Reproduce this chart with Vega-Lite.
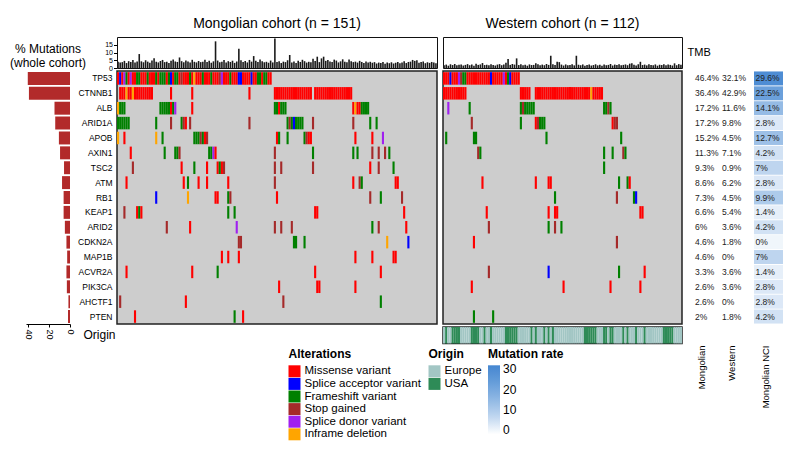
{
"$schema": "https://vega.github.io/schema/vega-lite/v6.json",
"padding": {"left": 9, "top": 16, "right": 0, "bottom": 0},
"config": {"font": "Liberation Sans", "view": {"stroke": null}, "axis": {"grid": false}, "title": {"fontWeight": "normal", "color": "#000"}},
"resolve": {"scale": {"x": "independent", "y": "independent", "color": "independent"}},
"columns": 7,
"spacing": {"row": 3, "column": 6},
"bounds": "flush",
"align": "each",
"datasets": {
"types": [{"t":"m","type":"Missense variant"},{"t":"a","type":"Splice acceptor variant"},{"t":"f","type":"Frameshift variant"},{"t":"s","type":"Stop gained"},{"t":"d","type":"Splice donor variant"},{"t":"i","type":"Inframe deletion"}],
"tbl": [
{"g":"TP53","wc":40.3,"mt":"46.4%","wt":"32.1%","n":29.6,"nt":"29.6%"},
{"g":"CTNNB1","wc":39.2,"mt":"36.4%","wt":"42.9%","n":22.5,"nt":"22.5%"},
{"g":"ALB","wc":14.8,"mt":"17.2%","wt":"11.6%","n":14.1,"nt":"14.1%"},
{"g":"ARID1A","wc":14.1,"mt":"17.2%","wt":"9.8%","n":2.8,"nt":"2.8%"},
{"g":"APOB","wc":10.6,"mt":"15.2%","wt":"4.5%","n":12.7,"nt":"12.7%"},
{"g":"AXIN1","wc":9.5,"mt":"11.3%","wt":"7.1%","n":4.2,"nt":"4.2%"},
{"g":"TSC2","wc":5.7,"mt":"9.3%","wt":"0.9%","n":7,"nt":"7%"},
{"g":"ATM","wc":7.6,"mt":"8.6%","wt":"6.2%","n":2.8,"nt":"2.8%"},
{"g":"RB1","wc":6.1,"mt":"7.3%","wt":"4.5%","n":9.9,"nt":"9.9%"},
{"g":"KEAP1","wc":6.1,"mt":"6.6%","wt":"5.4%","n":1.4,"nt":"1.4%"},
{"g":"ARID2","wc":4.9,"mt":"6%","wt":"3.6%","n":4.2,"nt":"4.2%"},
{"g":"CDKN2A","wc":3.4,"mt":"4.6%","wt":"1.8%","n":0,"nt":"0%"},
{"g":"MAP1B","wc":2.7,"mt":"4.6%","wt":"0%","n":7,"nt":"7%"},
{"g":"ACVR2A","wc":3.4,"mt":"3.3%","wt":"3.6%","n":1.4,"nt":"1.4%"},
{"g":"PIK3CA","wc":3.0,"mt":"2.6%","wt":"3.6%","n":2.8,"nt":"2.8%"},
{"g":"AHCTF1","wc":1.5,"mt":"2.6%","wt":"0%","n":2.8,"nt":"2.8%"},
{"g":"PTEN","wc":1.9,"mt":"2%","wt":"1.8%","n":4.2,"nt":"4.2%"}
],
"tmbM": [
{"s":0,"v":4.1},{"s":1,"v":3.5},{"s":2,"v":3.8},{"s":3,"v":4.6},{"s":4,"v":3.2},{"s":5,"v":4.4},{"s":6,"v":3.9},{"s":7,"v":5.1},{"s":8,"v":3.6},{"s":9,"v":4.2},
{"s":10,"v":9.0},{"s":11,"v":4.3},{"s":12,"v":3.7},{"s":13,"v":5.0},{"s":14,"v":4.1},{"s":15,"v":3.4},{"s":16,"v":4.8},{"s":17,"v":6.3},{"s":18,"v":4.0},{"s":19,"v":3.6},
{"s":20,"v":4.5},{"s":21,"v":5.2},{"s":22,"v":3.8},{"s":23,"v":4.1},{"s":24,"v":3.3},{"s":25,"v":4.7},{"s":26,"v":5.5},{"s":27,"v":4.2},{"s":28,"v":3.9},{"s":29,"v":6.8},
{"s":30,"v":4.4},{"s":31,"v":3.7},{"s":32,"v":4.9},{"s":33,"v":4.2},{"s":34,"v":3.5},{"s":35,"v":5.3},{"s":36,"v":4.0},{"s":37,"v":3.6},{"s":38,"v":4.5},{"s":39,"v":3.8},
{"s":40,"v":4.1},{"s":41,"v":5.4},{"s":42,"v":3.9},{"s":43,"v":4.6},{"s":44,"v":3.4},{"s":45,"v":4.3},{"s":46,"v":17.2},{"s":47,"v":4.8},{"s":48,"v":3.7},{"s":49,"v":4.0},
{"s":50,"v":5.1},{"s":51,"v":3.6},{"s":52,"v":4.4},{"s":53,"v":3.9},{"s":54,"v":4.7},{"s":55,"v":3.3},{"s":56,"v":4.2},{"s":57,"v":12.4},{"s":58,"v":5.0},{"s":59,"v":3.8},
{"s":60,"v":4.5},{"s":61,"v":3.6},{"s":62,"v":5.2},{"s":63,"v":4.1},{"s":64,"v":7.7},{"s":65,"v":4.6},{"s":66,"v":3.9},{"s":67,"v":5.5},{"s":68,"v":4.3},{"s":69,"v":3.7},
{"s":70,"v":4.0},{"s":71,"v":3.4},{"s":72,"v":4.8},{"s":73,"v":3.6},{"s":74,"v":19.0},{"s":75,"v":3.9},{"s":76,"v":4.4},{"s":77,"v":3.2},{"s":78,"v":4.1},{"s":79,"v":3.8},
{"s":80,"v":5.0},{"s":81,"v":8.4},{"s":82,"v":3.6},{"s":83,"v":4.2},{"s":84,"v":3.3},{"s":85,"v":4.7},{"s":86,"v":3.9},{"s":87,"v":5.3},{"s":88,"v":4.4},{"s":89,"v":3.5},
{"s":90,"v":4.0},{"s":91,"v":3.7},{"s":92,"v":6.0},{"s":93,"v":4.5},{"s":94,"v":7.3},{"s":95,"v":3.8},{"s":96,"v":6.2},{"s":97,"v":7.3},{"s":98,"v":4.6},{"s":99,"v":5.1},
{"s":100,"v":4.2},{"s":101,"v":3.9},{"s":102,"v":5.4},{"s":103,"v":4.8},{"s":104,"v":3.6},{"s":105,"v":4.3},{"s":106,"v":5.6},{"s":107,"v":4.0},{"s":108,"v":3.7},{"s":109,"v":5.5},
{"s":110,"v":4.4},{"s":111,"v":3.8},{"s":112,"v":4.1},{"s":113,"v":3.5},{"s":114,"v":4.6},{"s":115,"v":3.9},{"s":116,"v":3.3},{"s":117,"v":4.2},{"s":118,"v":3.6},{"s":119,"v":4.0},
{"s":120,"v":3.4},{"s":121,"v":3.8},{"s":122,"v":2.9},{"s":123,"v":3.5},{"s":124,"v":3.2},{"s":125,"v":3.9},{"s":126,"v":2.8},{"s":127,"v":3.6},{"s":128,"v":3.1},{"s":129,"v":3.7},
{"s":130,"v":2.9},{"s":131,"v":3.4},{"s":132,"v":3.8},{"s":133,"v":3.0},{"s":134,"v":3.6},{"s":135,"v":4.3},{"s":136,"v":3.2},{"s":137,"v":3.9},{"s":138,"v":4.1},{"s":139,"v":5.2},
{"s":140,"v":4.6},{"s":141,"v":5.0},{"s":142,"v":3.4},{"s":143,"v":3.8},{"s":144,"v":4.2},{"s":145,"v":3.1},{"s":146,"v":3.7},{"s":147,"v":3.3},{"s":148,"v":3.9},{"s":149,"v":3.5},
{"s":150,"v":3.0}
],
"tmbW": [
{"s":0,"v":1.8,"o":"Europe"},{"s":1,"v":2.2,"o":"USA"},{"s":2,"v":1.5,"o":"Europe"},{"s":3,"v":2.4,"o":"Europe"},{"s":4,"v":1.9,"o":"USA"},{"s":5,"v":2.6,"o":"USA"},{"s":6,"v":1.7,"o":"USA"},{"s":7,"v":2.1,"o":"USA"},{"s":8,"v":2.3,"o":"Europe"},{"s":9,"v":1.6,"o":"Europe"},
{"s":10,"v":2.0,"o":"Europe"},{"s":11,"v":2.5,"o":"Europe"},{"s":12,"v":1.8,"o":"Europe"},{"s":13,"v":2.2,"o":"USA"},{"s":14,"v":1.4,"o":"USA"},{"s":15,"v":2.7,"o":"USA"},{"s":16,"v":2.0,"o":"USA"},{"s":17,"v":2.3,"o":"Europe"},{"s":18,"v":3.2,"o":"Europe"},{"s":19,"v":1.9,"o":"USA"},
{"s":20,"v":2.1,"o":"Europe"},{"s":21,"v":1.7,"o":"Europe"},{"s":22,"v":2.4,"o":"USA"},{"s":23,"v":2.0,"o":"Europe"},{"s":24,"v":1.6,"o":"Europe"},{"s":25,"v":2.2,"o":"Europe"},{"s":26,"v":2.5,"o":"Europe"},{"s":27,"v":1.8,"o":"Europe"},{"s":28,"v":2.3,"o":"Europe"},{"s":29,"v":3.4,"o":"USA"},
{"s":30,"v":5.8,"o":"USA"},{"s":31,"v":2.0,"o":"USA"},{"s":32,"v":2.6,"o":"USA"},{"s":33,"v":2.2,"o":"USA"},{"s":34,"v":6.2,"o":"USA"},{"s":35,"v":1.9,"o":"Europe"},{"s":36,"v":2.4,"o":"Europe"},{"s":37,"v":1.7,"o":"Europe"},{"s":38,"v":2.1,"o":"Europe"},{"s":39,"v":1.5,"o":"Europe"},
{"s":40,"v":2.3,"o":"Europe"},{"s":41,"v":1.9,"o":"USA"},{"s":42,"v":2.0,"o":"Europe"},{"s":43,"v":3.0,"o":"USA"},{"s":44,"v":2.4,"o":"Europe"},{"s":45,"v":1.7,"o":"Europe"},{"s":46,"v":2.2,"o":"Europe"},{"s":47,"v":1.8,"o":"USA"},{"s":48,"v":2.6,"o":"Europe"},{"s":49,"v":2.0,"o":"USA"},
{"s":50,"v":7.9,"o":"Europe"},{"s":51,"v":2.5,"o":"USA"},{"s":52,"v":1.9,"o":"Europe"},{"s":53,"v":4.0,"o":"Europe"},{"s":54,"v":3.8,"o":"Europe"},{"s":55,"v":2.2,"o":"Europe"},{"s":56,"v":1.6,"o":"Europe"},{"s":57,"v":2.3,"o":"Europe"},{"s":58,"v":1.8,"o":"Europe"},{"s":59,"v":2.0,"o":"Europe"},
{"s":60,"v":2.4,"o":"Europe"},{"s":61,"v":1.7,"o":"Europe"},{"s":62,"v":7.9,"o":"Europe"},{"s":63,"v":2.1,"o":"Europe"},{"s":64,"v":1.8,"o":"Europe"},{"s":65,"v":2.3,"o":"Europe"},{"s":66,"v":1.5,"o":"USA"},{"s":67,"v":2.0,"o":"USA"},{"s":68,"v":2.2,"o":"USA"},{"s":69,"v":1.6,"o":"USA"},
{"s":70,"v":1.9,"o":"USA"},{"s":71,"v":2.4,"o":"USA"},{"s":72,"v":1.7,"o":"Europe"},{"s":73,"v":2.1,"o":"Europe"},{"s":74,"v":1.5,"o":"Europe"},{"s":75,"v":2.3,"o":"USA"},{"s":76,"v":1.8,"o":"USA"},{"s":77,"v":2.0,"o":"Europe"},{"s":78,"v":2.6,"o":"USA"},{"s":79,"v":1.6,"o":"USA"},
{"s":80,"v":2.2,"o":"Europe"},{"s":81,"v":1.9,"o":"Europe"},{"s":82,"v":2.5,"o":"Europe"},{"s":83,"v":1.7,"o":"Europe"},{"s":84,"v":2.0,"o":"USA"},{"s":85,"v":2.3,"o":"Europe"},{"s":86,"v":1.8,"o":"USA"},{"s":87,"v":2.8,"o":"Europe"},{"s":88,"v":3.0,"o":"Europe"},{"s":89,"v":2.1,"o":"Europe"},
{"s":90,"v":1.6,"o":"USA"},{"s":91,"v":2.4,"o":"Europe"},{"s":92,"v":4.0,"o":"Europe"},{"s":93,"v":1.9,"o":"Europe"},{"s":94,"v":2.2,"o":"USA"},{"s":95,"v":1.7,"o":"Europe"},{"s":96,"v":2.5,"o":"Europe"},{"s":97,"v":2.0,"o":"Europe"},{"s":98,"v":1.8,"o":"Europe"},{"s":99,"v":2.3,"o":"Europe"},
{"s":100,"v":1.5,"o":"Europe"},{"s":101,"v":2.1,"o":"Europe"},{"s":102,"v":1.9,"o":"Europe"},{"s":103,"v":2.4,"o":"USA"},{"s":104,"v":1.7,"o":"USA"},{"s":105,"v":2.2,"o":"USA"},{"s":106,"v":2.0,"o":"USA"},{"s":107,"v":1.6,"o":"USA"},{"s":108,"v":3.0,"o":"Europe"},{"s":109,"v":1.8,"o":"Europe"},
{"s":110,"v":2.5,"o":"Europe"},{"s":111,"v":2.1,"o":"Europe"}
],
"mutM": [
{"s":0,"g":"TP53","t":"m"},{"s":1,"g":"TP53","t":"a"},{"s":2,"g":"TP53","t":"m"},{"s":3,"g":"TP53","t":"d"},{"s":4,"g":"TP53","t":"f"},{"s":5,"g":"TP53","t":"m"},{"s":6,"g":"TP53","t":"d"},{"s":7,"g":"TP53","t":"m"},{"s":8,"g":"TP53","t":"m"},{"s":9,"g":"TP53","t":"f"},
{"s":10,"g":"TP53","t":"f"},{"s":11,"g":"TP53","t":"m"},{"s":12,"g":"TP53","t":"m"},{"s":13,"g":"TP53","t":"m"},{"s":14,"g":"TP53","t":"f"},{"s":15,"g":"TP53","t":"m"},{"s":16,"g":"TP53","t":"m"},{"s":17,"g":"TP53","t":"m"},{"s":18,"g":"TP53","t":"f"},{"s":19,"g":"TP53","t":"m"},
{"s":20,"g":"TP53","t":"f"},{"s":21,"g":"TP53","t":"f"},{"s":22,"g":"TP53","t":"f"},{"s":23,"g":"TP53","t":"m"},{"s":24,"g":"TP53","t":"f"},{"s":25,"g":"TP53","t":"a"},{"s":26,"g":"TP53","t":"m"},{"s":27,"g":"TP53","t":"f"},{"s":28,"g":"TP53","t":"f"},{"s":29,"g":"TP53","t":"m"},
{"s":30,"g":"TP53","t":"s"},{"s":31,"g":"TP53","t":"m"},{"s":32,"g":"TP53","t":"m"},{"s":33,"g":"TP53","t":"m"},{"s":34,"g":"TP53","t":"f"},{"s":35,"g":"TP53","t":"m"},{"s":36,"g":"TP53","t":"i"},{"s":37,"g":"TP53","t":"m"},{"s":38,"g":"TP53","t":"m"},{"s":39,"g":"TP53","t":"m"},
{"s":40,"g":"TP53","t":"f"},{"s":41,"g":"TP53","t":"m"},{"s":42,"g":"TP53","t":"m"},{"s":43,"g":"TP53","t":"m"},{"s":44,"g":"TP53","t":"f"},{"s":45,"g":"TP53","t":"m"},{"s":46,"g":"TP53","t":"m"},{"s":47,"g":"TP53","t":"m"},{"s":48,"g":"TP53","t":"s"},{"s":49,"g":"TP53","t":"d"},
{"s":50,"g":"TP53","t":"m"},{"s":51,"g":"TP53","t":"m"},{"s":52,"g":"TP53","t":"m"},{"s":53,"g":"TP53","t":"f"},{"s":54,"g":"TP53","t":"m"},{"s":55,"g":"TP53","t":"m"},{"s":56,"g":"TP53","t":"m"},{"s":57,"g":"TP53","t":"a"},{"s":58,"g":"TP53","t":"a"},{"s":59,"g":"TP53","t":"m"},
{"s":60,"g":"TP53","t":"m"},{"s":61,"g":"TP53","t":"m"},{"s":62,"g":"TP53","t":"m"},{"s":63,"g":"TP53","t":"a"},{"s":64,"g":"TP53","t":"m"},{"s":65,"g":"TP53","t":"m"},{"s":66,"g":"TP53","t":"f"},{"s":67,"g":"TP53","t":"f"},{"s":68,"g":"TP53","t":"m"},{"s":69,"g":"TP53","t":"f"},
{"s":70,"g":"TP53","t":"f"},{"s":71,"g":"TP53","t":"m"},{"s":72,"g":"TP53","t":"m"},
{"s":1,"g":"CTNNB1","t":"m"},{"s":2,"g":"CTNNB1","t":"m"},{"s":3,"g":"CTNNB1","t":"m"},{"s":4,"g":"CTNNB1","t":"i"},{"s":5,"g":"CTNNB1","t":"m"},{"s":6,"g":"CTNNB1","t":"m"},{"s":7,"g":"CTNNB1","t":"i"},{"s":8,"g":"CTNNB1","t":"m"},{"s":9,"g":"CTNNB1","t":"m"},{"s":10,"g":"CTNNB1","t":"m"},
{"s":11,"g":"CTNNB1","t":"m"},{"s":12,"g":"CTNNB1","t":"m"},{"s":13,"g":"CTNNB1","t":"m"},{"s":14,"g":"CTNNB1","t":"m"},{"s":15,"g":"CTNNB1","t":"m"},{"s":16,"g":"CTNNB1","t":"m"},{"s":25,"g":"CTNNB1","t":"m"},{"s":35,"g":"CTNNB1","t":"m"},{"s":62,"g":"CTNNB1","t":"m"},
{"s":74,"g":"CTNNB1","t":"m"},{"s":75,"g":"CTNNB1","t":"m"},{"s":76,"g":"CTNNB1","t":"m"},{"s":77,"g":"CTNNB1","t":"m"},{"s":78,"g":"CTNNB1","t":"m"},{"s":79,"g":"CTNNB1","t":"m"},{"s":80,"g":"CTNNB1","t":"m"},{"s":81,"g":"CTNNB1","t":"m"},{"s":82,"g":"CTNNB1","t":"m"},
{"s":83,"g":"CTNNB1","t":"m"},{"s":84,"g":"CTNNB1","t":"m"},{"s":85,"g":"CTNNB1","t":"m"},{"s":86,"g":"CTNNB1","t":"m"},{"s":87,"g":"CTNNB1","t":"m"},{"s":88,"g":"CTNNB1","t":"m"},{"s":89,"g":"CTNNB1","t":"m"},{"s":90,"g":"CTNNB1","t":"m"},{"s":91,"g":"CTNNB1","t":"m"},
{"s":93,"g":"CTNNB1","t":"m"},{"s":94,"g":"CTNNB1","t":"m"},{"s":95,"g":"CTNNB1","t":"m"},{"s":96,"g":"CTNNB1","t":"m"},{"s":97,"g":"CTNNB1","t":"m"},{"s":98,"g":"CTNNB1","t":"m"},{"s":99,"g":"CTNNB1","t":"m"},{"s":100,"g":"CTNNB1","t":"m"},{"s":101,"g":"CTNNB1","t":"m"},
{"s":102,"g":"CTNNB1","t":"m"},{"s":103,"g":"CTNNB1","t":"m"},{"s":104,"g":"CTNNB1","t":"m"},{"s":105,"g":"CTNNB1","t":"m"},{"s":106,"g":"CTNNB1","t":"m"},{"s":107,"g":"CTNNB1","t":"m"},{"s":108,"g":"CTNNB1","t":"m"},{"s":109,"g":"CTNNB1","t":"m"},{"s":110,"g":"CTNNB1","t":"m"},
{"s":0,"g":"ALB","t":"i"},{"s":1,"g":"ALB","t":"f"},{"s":2,"g":"ALB","t":"f"},{"s":3,"g":"ALB","t":"f"},{"s":20,"g":"ALB","t":"f"},{"s":21,"g":"ALB","t":"f"},{"s":22,"g":"ALB","t":"f"},{"s":23,"g":"ALB","t":"f"},{"s":24,"g":"ALB","t":"f"},{"s":25,"g":"ALB","t":"m"},{"s":26,"g":"ALB","t":"f"},{"s":27,"g":"ALB","t":"d"},
{"s":35,"g":"ALB","t":"m"},{"s":74,"g":"ALB","t":"f"},{"s":75,"g":"ALB","t":"f"},{"s":76,"g":"ALB","t":"m"},{"s":77,"g":"ALB","t":"f"},{"s":78,"g":"ALB","t":"f"},{"s":79,"g":"ALB","t":"f"},
{"s":111,"g":"ALB","t":"m"},{"s":112,"g":"ALB","t":"i"},{"s":113,"g":"ALB","t":"m"},{"s":114,"g":"ALB","t":"m"},{"s":115,"g":"ALB","t":"f"},{"s":116,"g":"ALB","t":"f"},{"s":117,"g":"ALB","t":"f"},{"s":118,"g":"ALB","t":"f"},
{"s":0,"g":"ARID1A","t":"f"},{"s":1,"g":"ARID1A","t":"f"},{"s":2,"g":"ARID1A","t":"f"},{"s":3,"g":"ARID1A","t":"f"},{"s":4,"g":"ARID1A","t":"f"},{"s":5,"g":"ARID1A","t":"f"},{"s":18,"g":"ARID1A","t":"f"},{"s":25,"g":"ARID1A","t":"s"},
{"s":30,"g":"ARID1A","t":"f"},{"s":31,"g":"ARID1A","t":"s"},{"s":32,"g":"ARID1A","t":"m"},{"s":34,"g":"ARID1A","t":"s"},{"s":62,"g":"ARID1A","t":"s"},
{"s":80,"g":"ARID1A","t":"f"},{"s":81,"g":"ARID1A","t":"s"},{"s":82,"g":"ARID1A","t":"f"},{"s":83,"g":"ARID1A","t":"a"},{"s":84,"g":"ARID1A","t":"f"},{"s":85,"g":"ARID1A","t":"f"},{"s":86,"g":"ARID1A","t":"f"},{"s":87,"g":"ARID1A","t":"f"},
{"s":92,"g":"ARID1A","t":"s"},{"s":111,"g":"ARID1A","t":"s"},{"s":119,"g":"ARID1A","t":"f"},{"s":122,"g":"ARID1A","t":"f"},
{"s":0,"g":"APOB","t":"i"},{"s":3,"g":"APOB","t":"m"},{"s":18,"g":"APOB","t":"i"},{"s":21,"g":"APOB","t":"f"},{"s":36,"g":"APOB","t":"f"},{"s":37,"g":"APOB","t":"f"},{"s":38,"g":"APOB","t":"f"},{"s":39,"g":"APOB","t":"s"},{"s":40,"g":"APOB","t":"f"},{"s":41,"g":"APOB","t":"m"},{"s":42,"g":"APOB","t":"s"},
{"s":75,"g":"APOB","t":"m"},{"s":76,"g":"APOB","t":"f"},{"s":80,"g":"APOB","t":"f"},{"s":88,"g":"APOB","t":"f"},{"s":89,"g":"APOB","t":"s"},{"s":90,"g":"APOB","t":"m"},{"s":91,"g":"APOB","t":"m"},{"s":112,"g":"APOB","t":"m"},{"s":120,"g":"APOB","t":"m"},{"s":125,"g":"APOB","t":"d"},
{"s":6,"g":"AXIN1","t":"m"},{"s":22,"g":"AXIN1","t":"f"},{"s":27,"g":"AXIN1","t":"f"},{"s":28,"g":"AXIN1","t":"f"},{"s":29,"g":"AXIN1","t":"s"},{"s":43,"g":"AXIN1","t":"f"},{"s":44,"g":"AXIN1","t":"f"},{"s":45,"g":"AXIN1","t":"d"},{"s":46,"g":"AXIN1","t":"m"},
{"s":74,"g":"AXIN1","t":"s"},{"s":92,"g":"AXIN1","t":"f"},{"s":111,"g":"AXIN1","t":"f"},{"s":113,"g":"AXIN1","t":"f"},{"s":120,"g":"AXIN1","t":"s"},{"s":123,"g":"AXIN1","t":"s"},{"s":126,"g":"AXIN1","t":"s"},{"s":128,"g":"AXIN1","t":"f"},
{"s":7,"g":"TSC2","t":"s"},{"s":30,"g":"TSC2","t":"m"},{"s":36,"g":"TSC2","t":"f"},{"s":42,"g":"TSC2","t":"m"},{"s":47,"g":"TSC2","t":"m"},{"s":48,"g":"TSC2","t":"f"},{"s":49,"g":"TSC2","t":"m"},{"s":50,"g":"TSC2","t":"s"},
{"s":74,"g":"TSC2","t":"s"},{"s":77,"g":"TSC2","t":"s"},{"s":92,"g":"TSC2","t":"s"},{"s":119,"g":"TSC2","t":"m"},{"s":123,"g":"TSC2","t":"s"},{"s":130,"g":"TSC2","t":"f"},
{"s":4,"g":"ATM","t":"m"},{"s":31,"g":"ATM","t":"m"},{"s":33,"g":"ATM","t":"f"},{"s":38,"g":"ATM","t":"m"},{"s":42,"g":"ATM","t":"m"},{"s":52,"g":"ATM","t":"m"},{"s":74,"g":"ATM","t":"s"},{"s":111,"g":"ATM","t":"m"},{"s":114,"g":"ATM","t":"s"},{"s":115,"g":"ATM","t":"f"},{"s":131,"g":"ATM","t":"m"},{"s":132,"g":"ATM","t":"m"},
{"s":18,"g":"RB1","t":"a"},{"s":33,"g":"RB1","t":"i"},{"s":46,"g":"RB1","t":"m"},{"s":47,"g":"RB1","t":"m"},{"s":52,"g":"RB1","t":"f"},{"s":53,"g":"RB1","t":"s"},{"s":75,"g":"RB1","t":"m"},{"s":119,"g":"RB1","t":"s"},{"s":124,"g":"RB1","t":"f"},{"s":134,"g":"RB1","t":"s"},
{"s":3,"g":"KEAP1","t":"s"},{"s":9,"g":"KEAP1","t":"m"},{"s":10,"g":"KEAP1","t":"f"},{"s":11,"g":"KEAP1","t":"m"},{"s":52,"g":"KEAP1","t":"f"},{"s":55,"g":"KEAP1","t":"f"},{"s":93,"g":"KEAP1","t":"m"},{"s":94,"g":"KEAP1","t":"m"},{"s":135,"g":"KEAP1","t":"m"},
{"s":23,"g":"ARID2","t":"s"},{"s":34,"g":"ARID2","t":"m"},{"s":56,"g":"ARID2","t":"d"},{"s":74,"g":"ARID2","t":"s"},{"s":77,"g":"ARID2","t":"s"},{"s":82,"g":"ARID2","t":"s"},{"s":120,"g":"ARID2","t":"f"},{"s":123,"g":"ARID2","t":"s"},{"s":136,"g":"ARID2","t":"m"},
{"s":57,"g":"CDKN2A","t":"s"},{"s":58,"g":"CDKN2A","t":"s"},{"s":83,"g":"CDKN2A","t":"f"},{"s":84,"g":"CDKN2A","t":"f"},{"s":88,"g":"CDKN2A","t":"f"},{"s":127,"g":"CDKN2A","t":"i"},{"s":137,"g":"CDKN2A","t":"a"},
{"s":49,"g":"MAP1B","t":"m"},{"s":52,"g":"MAP1B","t":"m"},{"s":57,"g":"MAP1B","t":"m"},{"s":112,"g":"MAP1B","t":"m"},{"s":120,"g":"MAP1B","t":"m"},{"s":130,"g":"MAP1B","t":"m"},{"s":131,"g":"MAP1B","t":"m"},
{"s":4,"g":"ACVR2A","t":"m"},{"s":35,"g":"ACVR2A","t":"m"},{"s":47,"g":"ACVR2A","t":"f"},{"s":93,"g":"ACVR2A","t":"m"},{"s":124,"g":"ACVR2A","t":"m"},
{"s":76,"g":"PIK3CA","t":"m"},{"s":94,"g":"PIK3CA","t":"m"},{"s":95,"g":"PIK3CA","t":"m"},{"s":112,"g":"PIK3CA","t":"m"},
{"s":1,"g":"AHCTF1","t":"s"},{"s":32,"g":"AHCTF1","t":"m"},{"s":78,"g":"AHCTF1","t":"s"},{"s":124,"g":"AHCTF1","t":"f"},
{"s":8,"g":"PTEN","t":"m"},{"s":55,"g":"PTEN","t":"f"},{"s":59,"g":"PTEN","t":"m"}
],
"mutW": [
{"s":0,"g":"TP53","t":"m"},{"s":1,"g":"TP53","t":"m"},{"s":2,"g":"TP53","t":"m"},{"s":3,"g":"TP53","t":"a"},{"s":4,"g":"TP53","t":"m"},{"s":5,"g":"TP53","t":"m"},{"s":6,"g":"TP53","t":"m"},{"s":7,"g":"TP53","t":"d"},{"s":8,"g":"TP53","t":"s"},{"s":9,"g":"TP53","t":"f"},
{"s":10,"g":"TP53","t":"f"},{"s":11,"g":"TP53","t":"m"},{"s":12,"g":"TP53","t":"m"},{"s":13,"g":"TP53","t":"m"},{"s":14,"g":"TP53","t":"m"},{"s":15,"g":"TP53","t":"m"},{"s":16,"g":"TP53","t":"m"},{"s":17,"g":"TP53","t":"m"},{"s":18,"g":"TP53","t":"m"},{"s":19,"g":"TP53","t":"m"},
{"s":20,"g":"TP53","t":"m"},{"s":21,"g":"TP53","t":"m"},{"s":22,"g":"TP53","t":"a"},{"s":23,"g":"TP53","t":"m"},{"s":24,"g":"TP53","t":"m"},{"s":25,"g":"TP53","t":"m"},{"s":26,"g":"TP53","t":"m"},{"s":27,"g":"TP53","t":"m"},{"s":28,"g":"TP53","t":"d"},{"s":29,"g":"TP53","t":"m"},
{"s":30,"g":"TP53","t":"f"},{"s":31,"g":"TP53","t":"a"},{"s":32,"g":"TP53","t":"m"},{"s":33,"g":"TP53","t":"m"},{"s":34,"g":"TP53","t":"m"},{"s":35,"g":"TP53","t":"m"},
{"s":0,"g":"CTNNB1","t":"m"},{"s":1,"g":"CTNNB1","t":"m"},{"s":2,"g":"CTNNB1","t":"m"},{"s":3,"g":"CTNNB1","t":"m"},{"s":4,"g":"CTNNB1","t":"m"},{"s":5,"g":"CTNNB1","t":"m"},{"s":6,"g":"CTNNB1","t":"m"},{"s":7,"g":"CTNNB1","t":"m"},{"s":8,"g":"CTNNB1","t":"m"},{"s":9,"g":"CTNNB1","t":"m"},{"s":10,"g":"CTNNB1","t":"m"},
{"s":36,"g":"CTNNB1","t":"m"},{"s":37,"g":"CTNNB1","t":"m"},{"s":38,"g":"CTNNB1","t":"m"},{"s":39,"g":"CTNNB1","t":"m"},{"s":40,"g":"CTNNB1","t":"m"},
{"s":43,"g":"CTNNB1","t":"m"},{"s":44,"g":"CTNNB1","t":"m"},{"s":45,"g":"CTNNB1","t":"m"},{"s":46,"g":"CTNNB1","t":"m"},{"s":47,"g":"CTNNB1","t":"m"},{"s":48,"g":"CTNNB1","t":"m"},{"s":49,"g":"CTNNB1","t":"m"},{"s":50,"g":"CTNNB1","t":"m"},{"s":51,"g":"CTNNB1","t":"m"},
{"s":52,"g":"CTNNB1","t":"m"},{"s":53,"g":"CTNNB1","t":"m"},{"s":54,"g":"CTNNB1","t":"m"},{"s":55,"g":"CTNNB1","t":"m"},{"s":56,"g":"CTNNB1","t":"m"},{"s":57,"g":"CTNNB1","t":"m"},{"s":58,"g":"CTNNB1","t":"m"},{"s":59,"g":"CTNNB1","t":"m"},{"s":60,"g":"CTNNB1","t":"m"},
{"s":61,"g":"CTNNB1","t":"m"},{"s":62,"g":"CTNNB1","t":"m"},{"s":63,"g":"CTNNB1","t":"m"},{"s":64,"g":"CTNNB1","t":"m"},{"s":65,"g":"CTNNB1","t":"m"},{"s":66,"g":"CTNNB1","t":"m"},{"s":67,"g":"CTNNB1","t":"m"},{"s":68,"g":"CTNNB1","t":"m"},{"s":69,"g":"CTNNB1","t":"i"},
{"s":70,"g":"CTNNB1","t":"m"},{"s":71,"g":"CTNNB1","t":"m"},{"s":72,"g":"CTNNB1","t":"m"},{"s":73,"g":"CTNNB1","t":"m"},{"s":74,"g":"CTNNB1","t":"m"},
{"s":2,"g":"ALB","t":"d"},{"s":12,"g":"ALB","t":"f"},{"s":36,"g":"ALB","t":"f"},{"s":37,"g":"ALB","t":"s"},{"s":38,"g":"ALB","t":"f"},{"s":39,"g":"ALB","t":"f"},{"s":40,"g":"ALB","t":"f"},{"s":41,"g":"ALB","t":"f"},{"s":42,"g":"ALB","t":"f"},
{"s":75,"g":"ALB","t":"f"},{"s":76,"g":"ALB","t":"f"},{"s":77,"g":"ALB","t":"s"},{"s":78,"g":"ALB","t":"f"},
{"s":13,"g":"ARID1A","t":"s"},{"s":36,"g":"ARID1A","t":"f"},{"s":43,"g":"ARID1A","t":"m"},{"s":44,"g":"ARID1A","t":"s"},{"s":45,"g":"ARID1A","t":"f"},{"s":46,"g":"ARID1A","t":"f"},{"s":47,"g":"ARID1A","t":"f"},{"s":79,"g":"ARID1A","t":"m"},{"s":80,"g":"ARID1A","t":"s"},{"s":81,"g":"ARID1A","t":"s"},
{"s":1,"g":"APOB","t":"f"},{"s":14,"g":"APOB","t":"f"},{"s":15,"g":"APOB","t":"f"},{"s":48,"g":"APOB","t":"f"},{"s":83,"g":"APOB","t":"f"},
{"s":16,"g":"AXIN1","t":"s"},{"s":17,"g":"AXIN1","t":"f"},{"s":75,"g":"AXIN1","t":"f"},{"s":79,"g":"AXIN1","t":"f"},{"s":84,"g":"AXIN1","t":"s"},{"s":85,"g":"AXIN1","t":"f"},
{"s":75,"g":"TSC2","t":"f"},
{"s":18,"g":"ATM","t":"m"},{"s":43,"g":"ATM","t":"m"},{"s":49,"g":"ATM","t":"m"},{"s":50,"g":"ATM","t":"m"},{"s":82,"g":"ATM","t":"f"},{"s":86,"g":"ATM","t":"f"},{"s":87,"g":"ATM","t":"m"},
{"s":52,"g":"RB1","t":"f"},{"s":81,"g":"RB1","t":"s"},{"s":89,"g":"RB1","t":"f"},{"s":90,"g":"RB1","t":"a"},
{"s":20,"g":"KEAP1","t":"m"},{"s":49,"g":"KEAP1","t":"m"},{"s":52,"g":"KEAP1","t":"m"},{"s":53,"g":"KEAP1","t":"m"},{"s":92,"g":"KEAP1","t":"m"},{"s":93,"g":"KEAP1","t":"m"},
{"s":21,"g":"ARID2","t":"s"},{"s":49,"g":"ARID2","t":"f"},{"s":52,"g":"ARID2","t":"s"},{"s":55,"g":"ARID2","t":"f"},
{"s":14,"g":"CDKN2A","t":"m"},{"s":81,"g":"CDKN2A","t":"s"},
{"s":21,"g":"ACVR2A","t":"s"},{"s":49,"g":"ACVR2A","t":"a"},{"s":82,"g":"ACVR2A","t":"f"},{"s":94,"g":"ACVR2A","t":"m"},
{"s":13,"g":"PIK3CA","t":"m"},{"s":56,"g":"PIK3CA","t":"m"},{"s":78,"g":"PIK3CA","t":"m"},{"s":92,"g":"PIK3CA","t":"m"},
{"s":14,"g":"PTEN","t":"f"},{"s":23,"g":"PTEN","t":"f"}
]
},
"concat": [
{"width": 44, "height": 1, "data": {"values": []}, "mark": {"type": "point", "opacity": 0}, "encoding": {}},
{"width": 34.5, "height": 1, "data": {"values": []}, "mark": {"type": "point", "opacity": 0}, "encoding": {}},
{
"width": 320, "height": 31,
"title": {"text": "Mongolian cohort (n = 151)", "fontSize": 14, "anchor": "middle", "offset": 6},
"data": {"name": "tmbM"},
"mark": {"type": "bar", "color": "#1a1a1a"},
"encoding": {
"x": {"field": "s", "type": "ordinal", "scale": {"domain": [0,1,2,3,4,5,6,7,8,9,10,11,12,13,14,15,16,17,18,19,20,21,22,23,24,25,26,27,28,29,30,31,32,33,34,35,36,37,38,39,40,41,42,43,44,45,46,47,48,49,50,51,52,53,54,55,56,57,58,59,60,61,62,63,64,65,66,67,68,69,70,71,72,73,74,75,76,77,78,79,80,81,82,83,84,85,86,87,88,89,90,91,92,93,94,95,96,97,98,99,100,101,102,103,104,105,106,107,108,109,110,111,112,113,114,115,116,117,118,119,120,121,122,123,124,125,126,127,128,129,130,131,132,133,134,135,136,137,138,139,140,141,142,143,144,145,146,147,148,149,150], "paddingInner": 0.25, "paddingOuter": 0.125}, "axis": null},
"y": {"field": "v", "type": "quantitative", "scale": {"domain": [0, 20], "nice": false}, "axis": {"values": [0,5,10,15], "labelFontSize": 7, "labelOverlap": false, "tickSize": 3.5, "labelPadding": 1, "domain": false, "title": null, "labelColor": "#000", "tickColor": "#000"}}
},
"view": {"stroke": "#111", "strokeWidth": 1}
},
{
"width": 239, "height": 31,
"title": {"text": "Western cohort (n = 112)", "fontSize": 14, "anchor": "middle", "offset": 6},
"data": {"name": "tmbW"},
"mark": {"type": "bar", "color": "#1a1a1a"},
"encoding": {
"x": {"field": "s", "type": "ordinal", "scale": {"domain": [0,1,2,3,4,5,6,7,8,9,10,11,12,13,14,15,16,17,18,19,20,21,22,23,24,25,26,27,28,29,30,31,32,33,34,35,36,37,38,39,40,41,42,43,44,45,46,47,48,49,50,51,52,53,54,55,56,57,58,59,60,61,62,63,64,65,66,67,68,69,70,71,72,73,74,75,76,77,78,79,80,81,82,83,84,85,86,87,88,89,90,91,92,93,94,95,96,97,98,99,100,101,102,103,104,105,106,107,108,109,110,111], "paddingInner": 0.25, "paddingOuter": 0.125}, "axis": null},
"y": {"field": "v", "type": "quantitative", "scale": {"domain": [0, 20], "nice": false}, "axis": {"orient": "right", "labels": false, "ticks": false, "domain": false, "title": "TMB", "titleAngle": 0, "titleAlign": "left", "titleBaseline": "middle", "titleFontSize": 11, "titleFontWeight": "normal", "titlePadding": 5, "titleColor": "#000"}}
},
"view": {"stroke": "#111", "strokeWidth": 1}
},
{"width": 20.5, "height": 1, "data": {"values": []}, "mark": {"type": "point", "opacity": 0}, "encoding": {}},
{"width": 33, "height": 1, "data": {"values": []}, "mark": {"type": "point", "opacity": 0}, "encoding": {}},
{"width": 29, "height": 1, "data": {"values": []}, "mark": {"type": "point", "opacity": 0}, "encoding": {}},
{
"width": 44, "height": 253,
"title": {"text": ["% Mutations", "(whole cohort)"], "fontSize": 12, "anchor": "middle", "offset": 1},
"data": {"name": "tbl"},
"mark": {"type": "bar", "color": "#b22a2a"},
"encoding": {
"y": {"field": "g", "type": "nominal", "scale": {"domain": ["TP53","CTNNB1","ALB","ARID1A","APOB","AXIN1","TSC2","ATM","RB1","KEAP1","ARID2","CDKN2A","MAP1B","ACVR2A","PIK3CA","AHCTF1","PTEN"], "paddingInner": 0.13, "paddingOuter": 0.065}, "axis": null},
"x": {"field": "wc", "type": "quantitative", "scale": {"domain": [0, 42], "reverse": true, "nice": false}, "axis": {"values": [0,20,40], "labelAngle": 90, "labelFontSize": 9, "tickSize": 3, "title": null, "domainColor": "#000", "tickColor": "#000", "labelColor": "#000"}}
}
},
{"width": 34.5, "height": 1, "data": {"values": []}, "mark": {"type": "point", "opacity": 0}, "encoding": {}},
{
"width": 320, "height": 253,
"data": {"name": "mutM"},
"transform": [{"lookup": "t", "from": {"data": {"name": "types"}, "key": "t", "fields": ["type"]}}],
"mark": {"type": "rect"},
"encoding": {
"x": {"field": "s", "type": "ordinal", "scale": {"domain": [0,1,2,3,4,5,6,7,8,9,10,11,12,13,14,15,16,17,18,19,20,21,22,23,24,25,26,27,28,29,30,31,32,33,34,35,36,37,38,39,40,41,42,43,44,45,46,47,48,49,50,51,52,53,54,55,56,57,58,59,60,61,62,63,64,65,66,67,68,69,70,71,72,73,74,75,76,77,78,79,80,81,82,83,84,85,86,87,88,89,90,91,92,93,94,95,96,97,98,99,100,101,102,103,104,105,106,107,108,109,110,111,112,113,114,115,116,117,118,119,120,121,122,123,124,125,126,127,128,129,130,131,132,133,134,135,136,137,138,139,140,141,142,143,144,145,146,147,148,149,150], "paddingInner": 0, "paddingOuter": 0}, "axis": null},
"y": {"field": "g", "type": "nominal", "scale": {"domain": ["TP53","CTNNB1","ALB","ARID1A","APOB","AXIN1","TSC2","ATM","RB1","KEAP1","ARID2","CDKN2A","MAP1B","ACVR2A","PIK3CA","AHCTF1","PTEN"], "paddingInner": 0.16, "paddingOuter": 0.08}, "axis": {"title": null, "ticks": false, "domain": false, "labelFontSize": 8.5, "labelPadding": 5, "labelColor": "#000"}},
"color": {"field": "type", "type": "nominal", "scale": {"domain": ["Missense variant","Splice acceptor variant","Frameshift variant","Stop gained","Splice donor variant","Inframe deletion"], "range": ["#ff0000","#0000ff","#008000","#a52a2a","#a020f0","#ffa500"]},
"legend": {"orient": "none", "legendX": 171.5, "legendY": 278.3, "title": "Alterations", "titleFontSize": 12, "titleFontWeight": "bold", "titleColor": "#000", "titlePadding": 4, "labelFontSize": 11.5, "labelColor": "#000", "symbolType": "square", "symbolSize": 144, "symbolStrokeWidth": 0, "symbolOpacity": 1, "rowPadding": 0.6, "labelOffset": 4}}
},
"view": {"fill": "#cdcdcd", "stroke": "#222", "strokeWidth": 1.5}
},
{
"width": 239, "height": 253,
"data": {"name": "mutW"},
"transform": [{"lookup": "t", "from": {"data": {"name": "types"}, "key": "t", "fields": ["type"]}}],
"mark": {"type": "rect"},
"encoding": {
"x": {"field": "s", "type": "ordinal", "scale": {"domain": [0,1,2,3,4,5,6,7,8,9,10,11,12,13,14,15,16,17,18,19,20,21,22,23,24,25,26,27,28,29,30,31,32,33,34,35,36,37,38,39,40,41,42,43,44,45,46,47,48,49,50,51,52,53,54,55,56,57,58,59,60,61,62,63,64,65,66,67,68,69,70,71,72,73,74,75,76,77,78,79,80,81,82,83,84,85,86,87,88,89,90,91,92,93,94,95,96,97,98,99,100,101,102,103,104,105,106,107,108,109,110,111], "paddingInner": 0, "paddingOuter": 0}, "axis": null},
"y": {"field": "g", "type": "nominal", "scale": {"domain": ["TP53","CTNNB1","ALB","ARID1A","APOB","AXIN1","TSC2","ATM","RB1","KEAP1","ARID2","CDKN2A","MAP1B","ACVR2A","PIK3CA","AHCTF1","PTEN"], "paddingInner": 0.16, "paddingOuter": 0.08}, "axis": null},
"color": {"field": "type", "type": "nominal", "scale": {"domain": ["Missense variant","Splice acceptor variant","Frameshift variant","Stop gained","Splice donor variant","Inframe deletion"], "range": ["#ff0000","#0000ff","#008000","#a52a2a","#a020f0","#ffa500"]}, "legend": null}
},
"view": {"fill": "#cdcdcd", "stroke": "#222", "strokeWidth": 1.5}
},
{
"width": 20.5, "height": 253,
"data": {"name": "tbl"},
"mark": {"type": "text", "align": "left", "dx": 7, "fontSize": 8.5, "color": "#222"},
"encoding": {
"x": {"datum": "Mongolian", "type": "nominal", "bandPosition": 0, "scale": {"type": "band", "paddingInner": 0, "paddingOuter": 0}, "axis": {"title": null, "labelAngle": -90, "ticks": false, "domain": false, "labelPadding": 21, "labelFontSize": 9.5, "labelOffset": 4, "labelColor": "#000"}},
"y": {"field": "g", "type": "nominal", "scale": {"domain": ["TP53","CTNNB1","ALB","ARID1A","APOB","AXIN1","TSC2","ATM","RB1","KEAP1","ARID2","CDKN2A","MAP1B","ACVR2A","PIK3CA","AHCTF1","PTEN"]}, "axis": null},
"text": {"field": "mt"}
}
},
{
"width": 33, "height": 253,
"data": {"name": "tbl"},
"mark": {"type": "text", "align": "left", "dx": 7, "fontSize": 8.5, "color": "#222"},
"encoding": {
"x": {"datum": "Western", "type": "nominal", "bandPosition": 0, "scale": {"type": "band", "paddingInner": 0, "paddingOuter": 0}, "axis": {"title": null, "labelAngle": -90, "ticks": false, "domain": false, "labelPadding": 21, "labelFontSize": 9.5, "labelColor": "#000"}},
"y": {"field": "g", "type": "nominal", "scale": {"domain": ["TP53","CTNNB1","ALB","ARID1A","APOB","AXIN1","TSC2","ATM","RB1","KEAP1","ARID2","CDKN2A","MAP1B","ACVR2A","PIK3CA","AHCTF1","PTEN"]}, "axis": null},
"text": {"field": "wt"}
}
},
{
"width": 29, "height": 253,
"data": {"name": "tbl"},
"encoding": {
"x": {"datum": "Mongolian NCI", "type": "nominal", "scale": {"type": "band", "paddingInner": 0, "paddingOuter": 0}, "axis": {"title": null, "labelAngle": -90, "ticks": false, "domain": false, "labelPadding": 21, "labelFontSize": 9.5, "labelOffset": -3, "labelColor": "#000"}},
"y": {"field": "g", "type": "nominal", "scale": {"domain": ["TP53","CTNNB1","ALB","ARID1A","APOB","AXIN1","TSC2","ATM","RB1","KEAP1","ARID2","CDKN2A","MAP1B","ACVR2A","PIK3CA","AHCTF1","PTEN"], "paddingInner": 0.06, "paddingOuter": 0.03}, "axis": null}
},
"layer": [
{"mark": {"type": "rect"},
 "encoding": {"color": {"field": "n", "type": "quantitative", "scale": {"type": "linear", "domain": [-2, 6.5, 15, 23.5, 32], "range": ["#ffffff", "#c1d7f0", "#90b8e4", "#669dda", "#4587d1"], "interpolate": "rgb"},
 "legend": {"orient": "none", "legendX": -266, "legendY": 278.3, "title": "Mutation rate", "direction": "vertical", "gradientLength": 69, "gradientThickness": 12, "values": [0,10,20,30], "labelOverlap": false, "labelBaseline": "middle", "labelFontSize": 12, "labelColor": "#000", "titleFontSize": 12, "titleFontWeight": "bold", "titleColor": "#000", "titlePadding": 4, "gradientStrokeWidth": 0, "labelOffset": 3}}}},
{"mark": {"type": "text", "align": "left", "dx": 1.5, "fontSize": 8.5, "color": "#222"},
 "encoding": {"x": {"datum": "Mongolian NCI", "type": "nominal", "bandPosition": 0}, "text": {"field": "nt"}}}
]
},
{"width": 44, "height": 1, "data": {"values": []}, "mark": {"type": "point", "opacity": 0}, "encoding": {}},
{"width": 34.5, "height": 1, "data": {"values": []}, "mark": {"type": "point", "opacity": 0}, "encoding": {}},
{
"width": 320, "height": 16.5,
"data": {"values": [{"k": "Origin"}]},
"mark": {"type": "rect", "opacity": 0},
"encoding": {
"y": {"field": "k", "type": "nominal", "axis": {"title": null, "ticks": false, "domain": false, "labelFontSize": 12, "labelPadding": 2, "labelColor": "#000"}}
}
},
{
"width": 239, "height": 16.5,
"data": {"name": "tmbW"},
"mark": {"type": "rect"},
"encoding": {
"x": {"field": "s", "type": "ordinal", "scale": {"domain": [0,1,2,3,4,5,6,7,8,9,10,11,12,13,14,15,16,17,18,19,20,21,22,23,24,25,26,27,28,29,30,31,32,33,34,35,36,37,38,39,40,41,42,43,44,45,46,47,48,49,50,51,52,53,54,55,56,57,58,59,60,61,62,63,64,65,66,67,68,69,70,71,72,73,74,75,76,77,78,79,80,81,82,83,84,85,86,87,88,89,90,91,92,93,94,95,96,97,98,99,100,101,102,103,104,105,106,107,108,109,110,111], "paddingInner": 0, "paddingOuter": 0}, "axis": null},
"color": {"field": "o", "type": "nominal", "scale": {"domain": ["Europe", "USA"], "range": ["#a2c6c4", "#2e8b57"]},
"legend": {"orient": "none", "legendX": -14.5, "legendY": 22.3, "title": "Origin", "titleFontSize": 12, "titleFontWeight": "bold", "titleColor": "#000", "titlePadding": 4, "labelFontSize": 11.5, "labelColor": "#000", "symbolType": "square", "symbolSize": 144, "symbolStrokeWidth": 0, "symbolOpacity": 1, "rowPadding": 0.6, "labelOffset": 4}}
},
"view": {"stroke": "#222", "strokeWidth": 1.5}
},
{"width": 20.5, "height": 1, "data": {"values": []}, "mark": {"type": "point", "opacity": 0}, "encoding": {}},
{"width": 33, "height": 1, "data": {"values": []}, "mark": {"type": "point", "opacity": 0}, "encoding": {}},
{"width": 29, "height": 1, "data": {"values": []}, "mark": {"type": "point", "opacity": 0}, "encoding": {}}
]
}
